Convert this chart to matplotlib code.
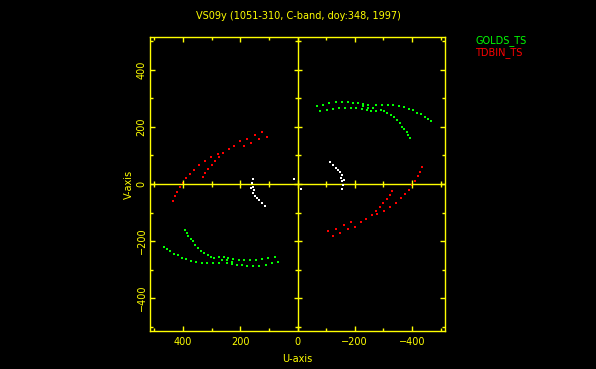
import matplotlib
matplotlib.use("Agg")
import matplotlib.pyplot as plt
from matplotlib.ticker import FixedLocator, MultipleLocator
import numpy as np

# colores tipo PGPLOT
YEL = "#ffff00"
GRN = "#00ff00"
RED = "#ff0000"

TITLE = "VS09y (1051-310, C-band, doy:348, 1997)"
LEGEND = ["GOLDS_TS", "TDBIN_TS"]

green_u = [-67, -90, -111, -133, -154, -175, -193, -211, -230, -247, -274, -295,
           -317, -334, -353, -372, -388, -402, -418, -430, -444, -457, -467,
           -79, -102, -125, -146, -167, -187, -204, -224, -241, -258, -274,
           -230, -247, -265, -290, -302, -313, -327, -338, -348, -358, -365,
           -373, -381, -387, -393]
green_v = [273, 277, 283, 287, 287, 287, 285, 284, 281, 277, 277, 277,
           277, 276, 274, 269, 263, 259, 250, 245, 236, 228, 219,
           256, 260, 263, 266, 267, 267, 266, 263, 261, 257, 254,
           274, 268, 266, 260, 254, 248, 240, 233, 224, 213, 201,
           192, 181, 172, 160]

red_u = [123, 106, 148, 134, 175, 161, 200, 186, 222, 240, 260, 276, 274, 302,
         288, 323, 299, 344, 313, 360, 322, 375, 331, 389, 401, 410, 420, 426, 433]
red_v = [181, 166, 171, 157, 158, 145, 149, 134, 134, 122, 108, 106, 94, 94,
         80, 80, 66, 66, 52, 50, 38, 35, 24, 20, 4, -12, -27, -42, -60]

white_u = [156, 160, 154, 162, 152, 154, 148, 142, 133, 125, 113, 13]
white_v = [18, 2, -9, -15, -21, -33, -41, -50, -57, -68, -76, 18]

LIM = 515
major = [-400, -200, 0, 200, 400]
zero_minor = [-500, -300, -100, 100, 300, 500]

fig = plt.figure(figsize=(5.96, 3.69), dpi=100, facecolor="black")
ax = fig.add_axes([150/596, 1 - 331/369, 295/596, 294/369])
ax.set_facecolor("black")

ms = 1.5
for u, v, c in [(green_u, green_v, GRN), (red_u, red_v, RED), (white_u, white_v, "white")]:
    u = np.array(u); v = np.array(v)
    ax.plot(u, v, "s", color=c, ms=ms, mew=0)
    ax.plot(-u, -v, "s", color=c, ms=ms, mew=0)

# ejes por el cero con marcas cruzadas
ax.axhline(0, color=YEL, lw=1.0, zorder=1)
ax.axvline(0, color=YEL, lw=1.0, zorder=1)
ax.plot(major, [0]*len(major), "|", color=YEL, ms=6.3, mew=1.0)
ax.plot(zero_minor, [0]*len(zero_minor), "|", color=YEL, ms=3.9, mew=1.0)
ax.plot([0]*len(major), major, "_", color=YEL, ms=6.3, mew=1.0)
ax.plot([0]*len(zero_minor), zero_minor, "_", color=YEL, ms=3.9, mew=1.0)

ax.set_xlim(LIM, -LIM)
ax.set_ylim(-LIM, LIM)

for s in ax.spines.values():
    s.set_color(YEL)
    s.set_linewidth(1.0)

for axis in (ax.xaxis, ax.yaxis):
    axis.set_major_locator(FixedLocator(major))
    axis.set_minor_locator(MultipleLocator(100))
ax.tick_params(which="both", direction="in", colors=YEL, top=True, right=True,
               width=1.0, labelsize=7)
ax.tick_params(which="major", length=3.6, pad=4)
ax.tick_params(axis="y", which="major", pad=2.5)
ax.tick_params(which="minor", length=2.4)
ax.set_xticklabels(["\u2212400", "\u2212200", "0", "200", "400"])
ax.set_yticklabels(["\u2212400", "\u2212200", "0", "200", "400"],
                   rotation=90, va="center")
for t in ax.get_xticklabels() + ax.get_yticklabels():
    t.set_color(YEL)

ax.set_xlabel("U-axis", color=YEL, fontsize=7, labelpad=5)
ax.set_ylabel("V-axis", color=YEL, fontsize=7, labelpad=2)

fig.text(0.5, 1 - 16/369, TITLE, color=YEL, fontsize=7, ha="center", va="center")
fig.text(475/596, 1 - 41/369, LEGEND[0], color=GRN, fontsize=7, ha="left", va="center")
fig.text(475/596, 1 - 53/369, LEGEND[1], color=RED, fontsize=7, ha="left", va="center")

fig.savefig("out.png", dpi=100, facecolor="black")
